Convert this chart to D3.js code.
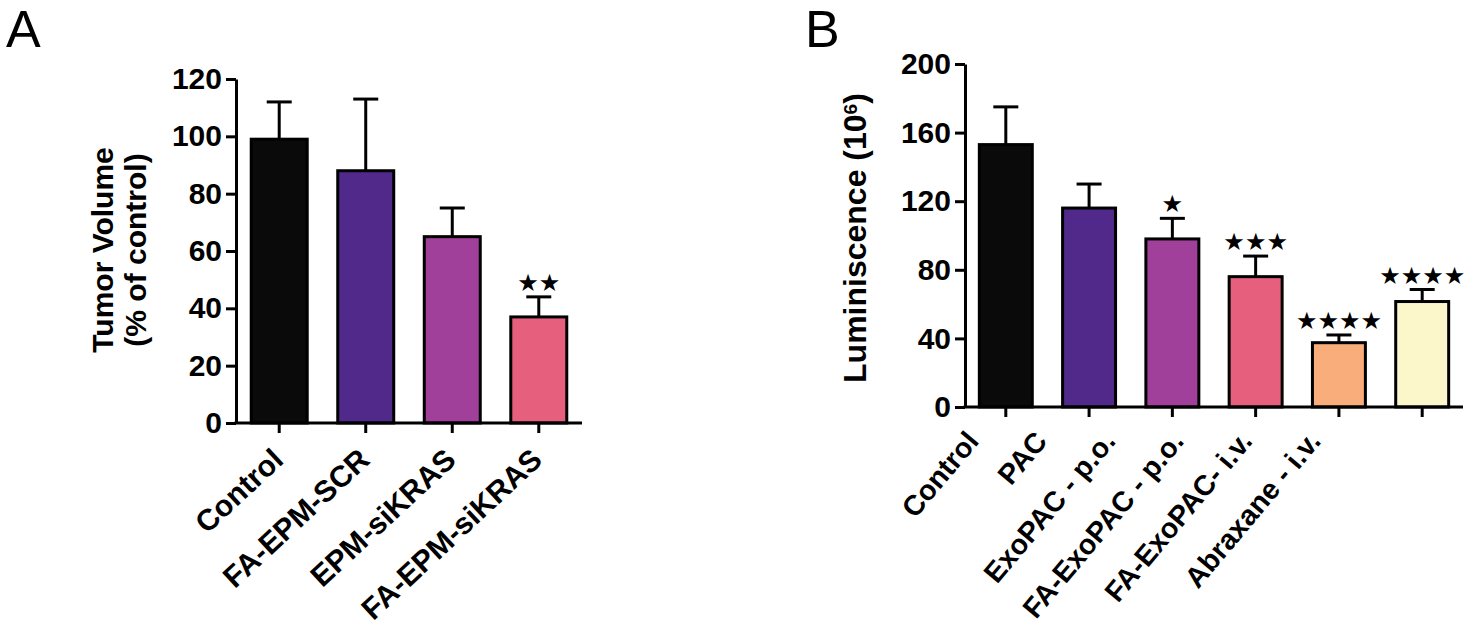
<!DOCTYPE html>
<html lang="en">
<head>
<meta charset="utf-8">
<title>Tumor volume and luminescence</title>
<script src="https://d3js.org/d3.v7.min.js"></script>
<style>
  body { margin: 0; background: #fff; }
  svg text { font-family: "Liberation Sans", Arial, sans-serif; fill: #000; }
  .axis path, .axis line { stroke: #000; stroke-width: 3; fill: none; }
  .axis text { font-size: 30px; font-weight: bold; }
  .title { font-weight: bold; }
  .cat { font-weight: bold; }
  .letter { font-size: 52px; }
  svg text.stars { font-family: "DejaVu Sans", sans-serif; font-size: 24px; }
</style>
</head>
<body>
<script>
// Panel A data
var catsA = ["Control", "FA-EPM-SCR", "EPM-siKRAS", "FA-EPM-siKRAS"];
var meanA = [99, 88, 65, 37];
var semA = [13, 25, 10, 7];
var sigA = ["", "", "", "**"];
var ticksA = [0, 20, 40, 60, 80, 100, 120];
var colorsA = ["#0a0a0a", "#50298a", "#a1409a", "#e6607d"];

// Panel B data
var catsB = ["Control", "PAC", "ExoPAC - p.o.", "FA-ExoPAC - p.o.", "FA-ExoPAC- i.v.", "Abraxane - i.v."];
var meanB = [153, 116, 98, 76, 37.5, 61.5];
var semB = [22, 14, 12, 12, 4.5, 7];
var sigB = ["", "", "*", "***", "****", "****"];
var ticksB = [0, 40, 80, 120, 160, 200];
var colorsB = ["#0a0a0a", "#50298a", "#a1409a", "#e6607d", "#f9ad7b", "#fcf7ca"];

var svg = d3.select("body").append("svg")
    .attr("width", 1471)
    .attr("height", 634);

function drawPanel(opt) {
    var g = svg.append("g");

    var yScale = d3.scaleLinear().domain(opt.domain).range([opt.bottom, opt.top]);
    var xScale = d3.scaleBand()
        .domain(opt.cats)
        .range([opt.left, opt.right])
        .paddingInner(opt.padIn)
        .paddingOuter(opt.padOut);

    // bars
    g.selectAll("rect.bar")
        .data(opt.cats)
        .enter()
        .append("rect")
        .attr("class", "bar")
        .attr("x", function(d) { return xScale(d); })
        .attr("y", function(d, i) { return yScale(opt.mean[i]); })
        .attr("width", xScale.bandwidth())
        .attr("height", function(d, i) { return opt.bottom - yScale(opt.mean[i]); })
        .style("fill", function(d, i) { return opt.colors[i]; })
        .style("stroke", "#000")
        .style("stroke-width", 3);

    // error bars (upper half only)
    var cx = function(d) { return xScale(d) + xScale.bandwidth() / 2; };
    var top = function(d, i) { return yScale(opt.mean[i] + opt.sem[i]); };
    g.selectAll("line.err")
        .data(opt.cats)
        .enter()
        .append("line")
        .attr("class", "err")
        .attr("x1", cx).attr("x2", cx)
        .attr("y1", function(d, i) { return yScale(opt.mean[i]); })
        .attr("y2", top)
        .style("stroke", "#000").style("stroke-width", 3);
    g.selectAll("line.cap")
        .data(opt.cats)
        .enter()
        .append("line")
        .attr("class", "cap")
        .attr("x1", function(d) { return cx(d) - 12.5; })
        .attr("x2", function(d) { return cx(d) + 12.5; })
        .attr("y1", top)
        .attr("y2", top)
        .style("stroke", "#000").style("stroke-width", 3);

    // significance stars
    g.selectAll("text.stars")
        .data(opt.cats)
        .enter()
        .append("text")
        .attr("class", "stars")
        .attr("x", cx)
        .attr("y", function(d, i) { return top(d, i) - 6; })
        .attr("text-anchor", "middle")
        .text(function(d, i) { return opt.sig[i].replace(/\*/g, "\u2605"); });

    // axes
    g.append("g")
        .attr("class", "axis")
        .attr("transform", "translate(" + opt.left + ",0)")
        .call(d3.axisLeft(yScale).tickValues(opt.ticks).tickSize(10).tickSizeOuter(0).tickPadding(4));

    g.append("g")
        .attr("class", "axis")
        .attr("transform", "translate(0," + opt.bottom + ")")
        .call(d3.axisBottom(xScale).tickSize(10).tickSizeOuter(0).tickFormat(""))
        .select(".domain").attr("d", "M" + (opt.left - 1.5) + ",0H" + opt.right);

    // category labels
    var labelX = d3.scalePoint().domain(opt.cats).range(opt.labelRange);
    g.selectAll("text.cat")
        .data(opt.cats)
        .enter()
        .append("text")
        .attr("class", "cat")
        .attr("text-anchor", "end")
        .attr("transform", function(d) {
            return "translate(" + labelX(d) + "," + opt.labelY + ") rotate(" + opt.angle + ")";
        })
        .style("font-size", opt.labelSize + "px")
        .text(function(d) { return d; });

    // y title
    opt.titles.forEach(function(t) {
        var txt = g.append("text")
            .attr("class", "title")
            .attr("text-anchor", "middle")
            .attr("transform", "translate(" + t.x + "," + opt.titleY + ") rotate(-90)")
            .style("font-size", opt.titleSize + "px");
        txt.append("tspan").text(t.text);
        if (t.sup) {
            txt.append("tspan").attr("dy", "-0.45em").style("font-size", "0.6em").text(t.sup);
            txt.append("tspan").attr("dy", "0.27em").text(t.after);
        }
    });

    // panel letter
    g.append("text")
        .attr("class", "letter")
        .attr("x", opt.letterX)
        .attr("y", 47)
        .text(opt.letter);
}

drawPanel({
    cats: catsA, mean: meanA, sem: semA, sig: sigA, ticks: ticksA, colors: colorsA,
    domain: [0, 120], top: 79, bottom: 423, left: 236, right: 582,
    padIn: 0.353, padOut: 0.176,
    labelRange: [285, 544], labelY: 462, angle: -43, labelSize: 30,
    titles: [{x: 113, text: "Tumor Volume"}, {x: 146, text: "(% of control)"}],
    titleY: 250, titleSize: 30,
    letter: "A", letterX: 6
});

drawPanel({
    cats: catsB, mean: meanB, sem: semB, sig: sigB, ticks: ticksB, colors: colorsB,
    domain: [0, 200], top: 64, bottom: 407, left: 965, right: 1463,
    padIn: 0.364, padOut: 0.172,
    labelRange: [980, 1322], labelY: 442, angle: -50, labelSize: 28.5,
    titles: [{x: 866, text: "Luminiscence (10", sup: "6", after: ")"}],
    titleY: 238, titleSize: 32,
    letter: "B", letterX: 805
});
</script>
</body>
</html>
